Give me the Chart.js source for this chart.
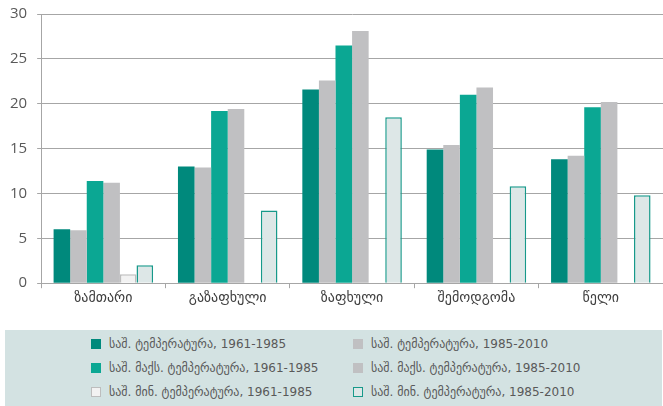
<!DOCTYPE html>
<html>
<head>
<meta charset="utf-8">
<script src="https://cdn.jsdelivr.net/npm/chart.js@4/dist/chart.umd.min.js"></script>
<style>
  body { margin: 0; background: #fff; width: 663px; height: 406px; overflow: hidden; position: relative; }
  #wrap { position: absolute; left: 0; top: -5px; width: 663px; height: 314px; }
  #legend {
    position: absolute; left: 5px; top: 330px; width: 657px; height: 76px;
    background: #d3e2e2;
    font-family: 'DejaVu Sans', sans-serif; font-size: 12px; color: #595959;
  }
  .item { position: absolute; height: 14px; line-height: 14px; white-space: nowrap; }
  .box { position: absolute; left: 0; top: 2px; width: 10px; height: 10px; box-sizing: border-box; }
  .txt { position: absolute; left: 18px; top: 0; }
</style>
</head>
<body>
<div id="wrap"><canvas id="tempChart"></canvas></div>
<div id="legend"></div>
<script>
const seasons = ['ზამთარი', 'გაზაფხული', 'ზაფხული', 'შემოდგომა', 'წელი'];
const yTicks = [0, 5, 10, 15, 20, 25, 30];

const avg6185 = [6.0, 13.0, 21.6, 14.9, 13.8];
const avg8510 = [5.9, 12.9, 22.6, 15.4, 14.2];
const max6185 = [11.4, 19.2, 26.5, 21.0, 19.6];
const max8510 = [11.2, 19.4, 28.1, 21.8, 20.2];
const min6185 = [1.0, null, null, null, null];
const min8510 = [2.0, 8.1, 18.5, 10.8, 9.8];

const seriesLabels = [
  'საშ. ტემპერატურა, 1961-1985',
  'საშ. ტემპერატურა, 1985-2010',
  'საშ. მაქს. ტემპერატურა, 1961-1985',
  'საშ. მაქს. ტემპერატურა, 1985-2010',
  'საშ. მინ. ტემპერატურა, 1961-1985',
  'საშ. მინ. ტემპერატურა, 1985-2010'
];

function ds(label, data, fill, border, bw) {
  return {
    label: label,
    data: data,
    backgroundColor: fill,
    borderColor: border,
    borderWidth: bw,
    categoryPercentage: 0.8,
    barPercentage: 1.0
  };
}

const ctx = document.getElementById('tempChart').getContext('2d');

new Chart(ctx, {
  type: 'bar',
  data: {
    labels: seasons,
    datasets: [
      ds(seriesLabels[0], avg6185, '#00897c', '#00897c', 0),
      ds(seriesLabels[1], avg8510, '#c0c0c2', '#c0c0c2', 0),
      ds(seriesLabels[2], max6185, '#0ba793', '#0ba793', 0),
      ds(seriesLabels[3], max8510, '#c0c0c2', '#c0c0c2', 0),
      ds(seriesLabels[4], min6185, '#f2f2f2', '#bdbdbd', 1.5),
      ds(seriesLabels[5], min8510, '#dde7e7', '#17998a', 1.5)
    ]
  },
  options: {
    responsive: true,
    maintainAspectRatio: false,
    animation: false,
    layout: { padding: 0 },
    plugins: {
      legend: { display: false },
      tooltip: { enabled: false }
    },
    scales: {
      x: {
        offset: true,
        grid: {
          offset: true,
          drawOnChartArea: false,
          drawTicks: true,
          tickLength: 5,
          color: '#a6a6a6'
        },
        border: { color: '#a6a6a6', width: 1 },
        ticks: {
          color: '#404040',
          font: { family: "'DejaVu Sans', sans-serif", size: 14 },
          padding: 2
        }
      },
      y: {
        min: 0,
        max: 30,
        afterBuildTicks: axis => { axis.ticks = yTicks.map(v => ({ value: v })); },
        grid: {
          color: '#a6a6a6',
          tickLength: 4,
          drawTicks: true
        },
        border: { color: '#a6a6a6', width: 1 },
        ticks: {
          color: '#595959',
          font: { family: "'Open Sans', sans-serif", size: 15 },
          padding: 10
        }
      }
    }
  },
  plugins: [{
    id: 'htmlLegend',
    afterUpdate(chart) {
      const box = document.getElementById('legend');
      box.innerHTML = '';
      chart.data.datasets.forEach((d, i) => {
        const col = i % 2, row = Math.floor(i / 2);
        const el = document.createElement('div');
        el.className = 'item';
        el.style.left = (col === 0 ? 86 : 348) + 'px';
        el.style.top = (7 + row * 24) + 'px';
        const sw = document.createElement('span');
        sw.className = 'box';
        sw.style.background = d.backgroundColor;
        sw.style.border = d.borderWidth ? '1.5px solid ' + d.borderColor : 'none';
        const t = document.createElement('span');
        t.className = 'txt';
        t.textContent = d.label;
        el.appendChild(sw);
        el.appendChild(t);
        box.appendChild(el);
      });
    }
  }]
});
</script>
</body>
</html>
